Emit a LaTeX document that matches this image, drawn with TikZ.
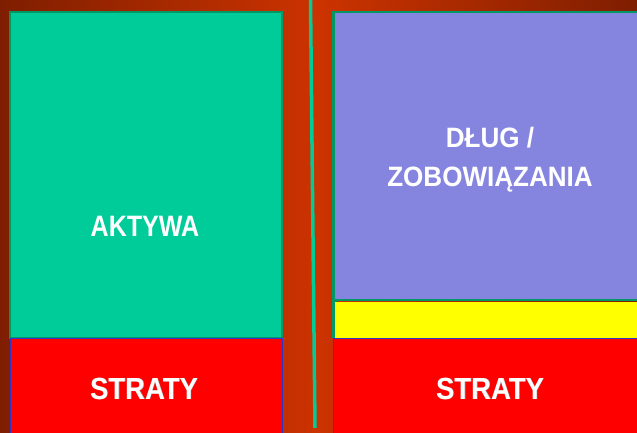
\documentclass[tikz,border=0pt]{standalone}
\usepackage{fontspec}
\setmainfont{Liberation Sans}
\definecolor{bgdark}{HTML}{7E1E00}
\definecolor{bgmid}{HTML}{CC3300}
\definecolor{aktgreen}{HTML}{00CC99}
\definecolor{edgegreen}{HTML}{009966}
\definecolor{debtpurple}{HTML}{8585E0}
\definecolor{stratred}{HTML}{FF0000}
\definecolor{edgeblue}{HTML}{3333CC}
\definecolor{yel}{HTML}{FFFF00}
\tikzset{
  x=1pt, y=1pt,
  boxgreen/.style={fill=aktgreen, draw=edgegreen, line width=2.5pt},
  boxpurple/.style={fill=debtpurple, draw=edgegreen, line width=2.5pt},
  boxred/.style={fill=stratred, draw=edgeblue, line width=1pt},
  label/.style={text=white, anchor=base, inner sep=0pt},
  shadowlabel/.style={text=gray!70, anchor=base, inner sep=0pt},
}
\newcommand{\bigtxt}[3]{\scalebox{#2}[1]{\fontsize{#1}{#1}\selectfont\bfseries #3}}
\begin{document}
\begin{tikzpicture}
\useasboundingbox (0,0) rectangle (637,432);
\clip (0,0) rectangle (637,432);
% background
\shade[left color=bgdark, right color=bgdark, middle color=bgmid] (0,0) rectangle (637,432);
% left column
\draw[boxgreen] (10,94) rectangle (282,420);
\draw[boxred] (10,-5) rectangle (282,94);
% divider
\coordinate (dtop) at (310.5,432);
\coordinate (dbot) at (315,4);
\draw[aktgreen, line width=3.5pt] (dtop) -- (dbot);
% right column
\draw[boxpurple] (333.5,132) rectangle (645,420);
\fill[edgegreen] (332,94) rectangle (337,132);
\fill[yel] (335,94) rectangle (645,130.5);
\draw[boxred] (333,-5) rectangle (645,94);
% texts
\node[label] (aktywa) at (145,196) {\bigtxt{29.5}{0.85}{AKTYWA}};
\node[label] (dlug) at (490,284) {\bigtxt{28}{0.93}{DŁUG /}};
\node[label] (zobow) at (490,246) {\bigtxt{28}{0.93}{ZOBOWIĄZANIA}};
\node[shadowlabel] (s1shadow) at (144.6,32.4) {\bigtxt{30.5}{0.9}{STRATY}};
\node[label] (strata1) at (144,33) {\bigtxt{30.5}{0.9}{STRATY}};
\node[shadowlabel] (s2shadow) at (490.6,32.4) {\bigtxt{30.5}{0.9}{STRATY}};
\node[label] (strata2) at (490,33) {\bigtxt{30.5}{0.9}{STRATY}};
\end{tikzpicture}
\end{document}
